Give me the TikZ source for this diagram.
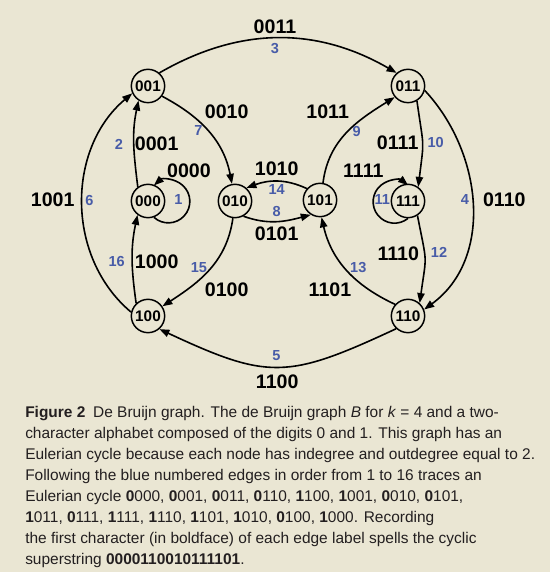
\documentclass[tikz,border=0pt]{standalone}
\usepackage{fontspec}
\setmainfont{Liberation Sans}
\usetikzlibrary{arrows.meta}
\definecolor{paper}{RGB}{234,230,211}
\definecolor{eblue}{RGB}{72,92,168}
\definecolor{ink}{RGB}{35,31,32}
\tikzset{
  kmer/.style={circle,draw,line width=1.1pt,minimum size=25pt,inner sep=0pt,
    font=\bfseries\fontsize{11.5}{12}\selectfont},
  lab/.style={font=\bfseries\fontsize{14.7}{16}\selectfont},
  num/.style={text=eblue,font=\bfseries\fontsize{10.9}{12}\selectfont},
  edg/.style={line width=1.2pt,-{Triangle[length=7.5pt,width=5.5pt]}}
}
\begin{document}
\begin{tikzpicture}[x=0.75pt,y=0.75pt]
\fill[paper] (0,0) rectangle (550,572);
\node[kmer] (v001) at (148,486) {001};
\node[kmer] (v011) at (408,486) {011};
\node[kmer] (v000) at (148,371) {000};
\node[kmer] (v010) at (235,371) {010};
\node[kmer] (v101) at (320,372) {101};
\node[kmer] (v111) at (408,371) {111};
\node[kmer] (v100) at (148,256) {100};
\node[kmer] (v110) at (408,256) {110};
\draw[edg] (v000.-70) arc[start angle=-132,end angle=132,radius=21.5];
\draw[edg] (v000.126) to[out=97,in=258] (v001.237);
\draw[edg] (v001.49) to[out=30,in=150] (v011.131);
\draw[edg] (v011.-15) to[out=-47,in=36] (v110.22);
\draw[edg] (v110.-133) to[out=205,in=-25,looseness=1.3] (v100.-49);
\draw[edg] (v100.167) to[out=140,in=220] (v001.205);
\draw[edg] (v001.-36) to[out=-28,in=101] (v010.100);
\draw[edg] (v010.-61) to[out=-20,in=195] (v101.-122);
\draw[edg] (v101.80) to[out=83,in=212] (v011.220);
\draw[edg] (v011.-59) to[out=-82,in=83,looseness=1.5] (v111.54);
\draw[edg] (v111.-90) arc[start angle=-51,end angle=-309,radius=21.4];
\draw[edg] (v111.-57) to[out=-79,in=82,looseness=1.5] (v110.48);
\draw[edg] (v110.138) to[out=155,in=-77] (v101.-85);
\draw[edg] (v101.139) to[out=155,in=20] (v010.49);
\draw[edg] (v010.-97) to[out=-98,in=33] (v100.34);
\draw[edg] (v100.133) to[out=98,in=258] (v000.233);
\node[lab] (l1) at (189,401) {0000};
\node[num] (n1) at (178.3,372) {1};
\node[lab] (l2) at (156.7,428) {0001};
\node[num] (n2) at (119,428) {2};
\node[lab] (l3) at (275,545.3) {0011};
\node[num] (n3) at (275,523.7) {3};
\node[lab] (l4) at (504.3,372) {0110};
\node[num] (n4) at (465,372) {4};
\node[lab] (l5) at (277.2,190.6) {1100};
\node[num] (n5) at (276.5,216.6) {5};
\node[lab] (l6) at (52.7,372) {1001};
\node[num] (n6) at (89.3,372) {6};
\node[lab] (l7) at (226.7,460.3) {0010};
\node[num] (n7) at (198.3,441.3) {7};
\node[lab] (l8) at (276.7,338.7) {0101};
\node[num] (n8) at (276.7,360.3) {8};
\node[lab] (l9) at (327.7,460.3) {1011};
\node[num] (n9) at (356.7,440.3) {9};
\node[lab] (l10) at (397.7,429.3) {0111};
\node[num] (n10) at (435.7,429.3) {10};
\node[lab] (l11) at (363.3,401.3) {1111};
\node[num] (n11) at (382.3,372) {11};
\node[lab] (l12) at (398.3,318.7) {1110};
\node[num] (n12) at (439,319.3) {12};
\node[lab] (l13) at (330,282) {1101};
\node[num] (n13) at (358.3,304.7) {13};
\node[lab] (l14) at (276.7,403.7) {1010};
\node[num] (n14) at (276.7,382) {14};
\node[lab] (l15) at (226.7,282) {0100};
\node[num] (n15) at (199,304.7) {15};
\node[lab] (l16) at (156.7,310.3) {1000};
\node[num] (n16) at (116.7,310.3) {16};
\node[anchor=north west,inner sep=0pt,align=left,text=ink,font=\fontsize{11.6}{15.7}\selectfont] (cap) at (25,165.6)
{\textbf{Figure 2}\enspace De Bruijn graph. The de Bruijn graph \textit{B} for \textit{k} = 4 and a two-\\
character alphabet composed of the digits 0 and 1. This graph has an\\
Eulerian cycle because each node has indegree and outdegree equal to 2.\\
Following the blue numbered edges in order from 1 to 16 traces an\\
Eulerian cycle \textbf{0}000, \textbf{0}001, \textbf{0}011, \textbf{0}110, \textbf{1}100, \textbf{1}001, \textbf{0}010, \textbf{0}101,\\
\textbf{1}011, \textbf{0}111, \textbf{1}111, \textbf{1}110, \textbf{1}101, \textbf{1}010, \textbf{0}100, \textbf{1}000. Recording\\
the first character (in boldface) of each edge label spells the cyclic\\
superstring \textbf{0000110010111101}.};
\end{tikzpicture}
\end{document}
